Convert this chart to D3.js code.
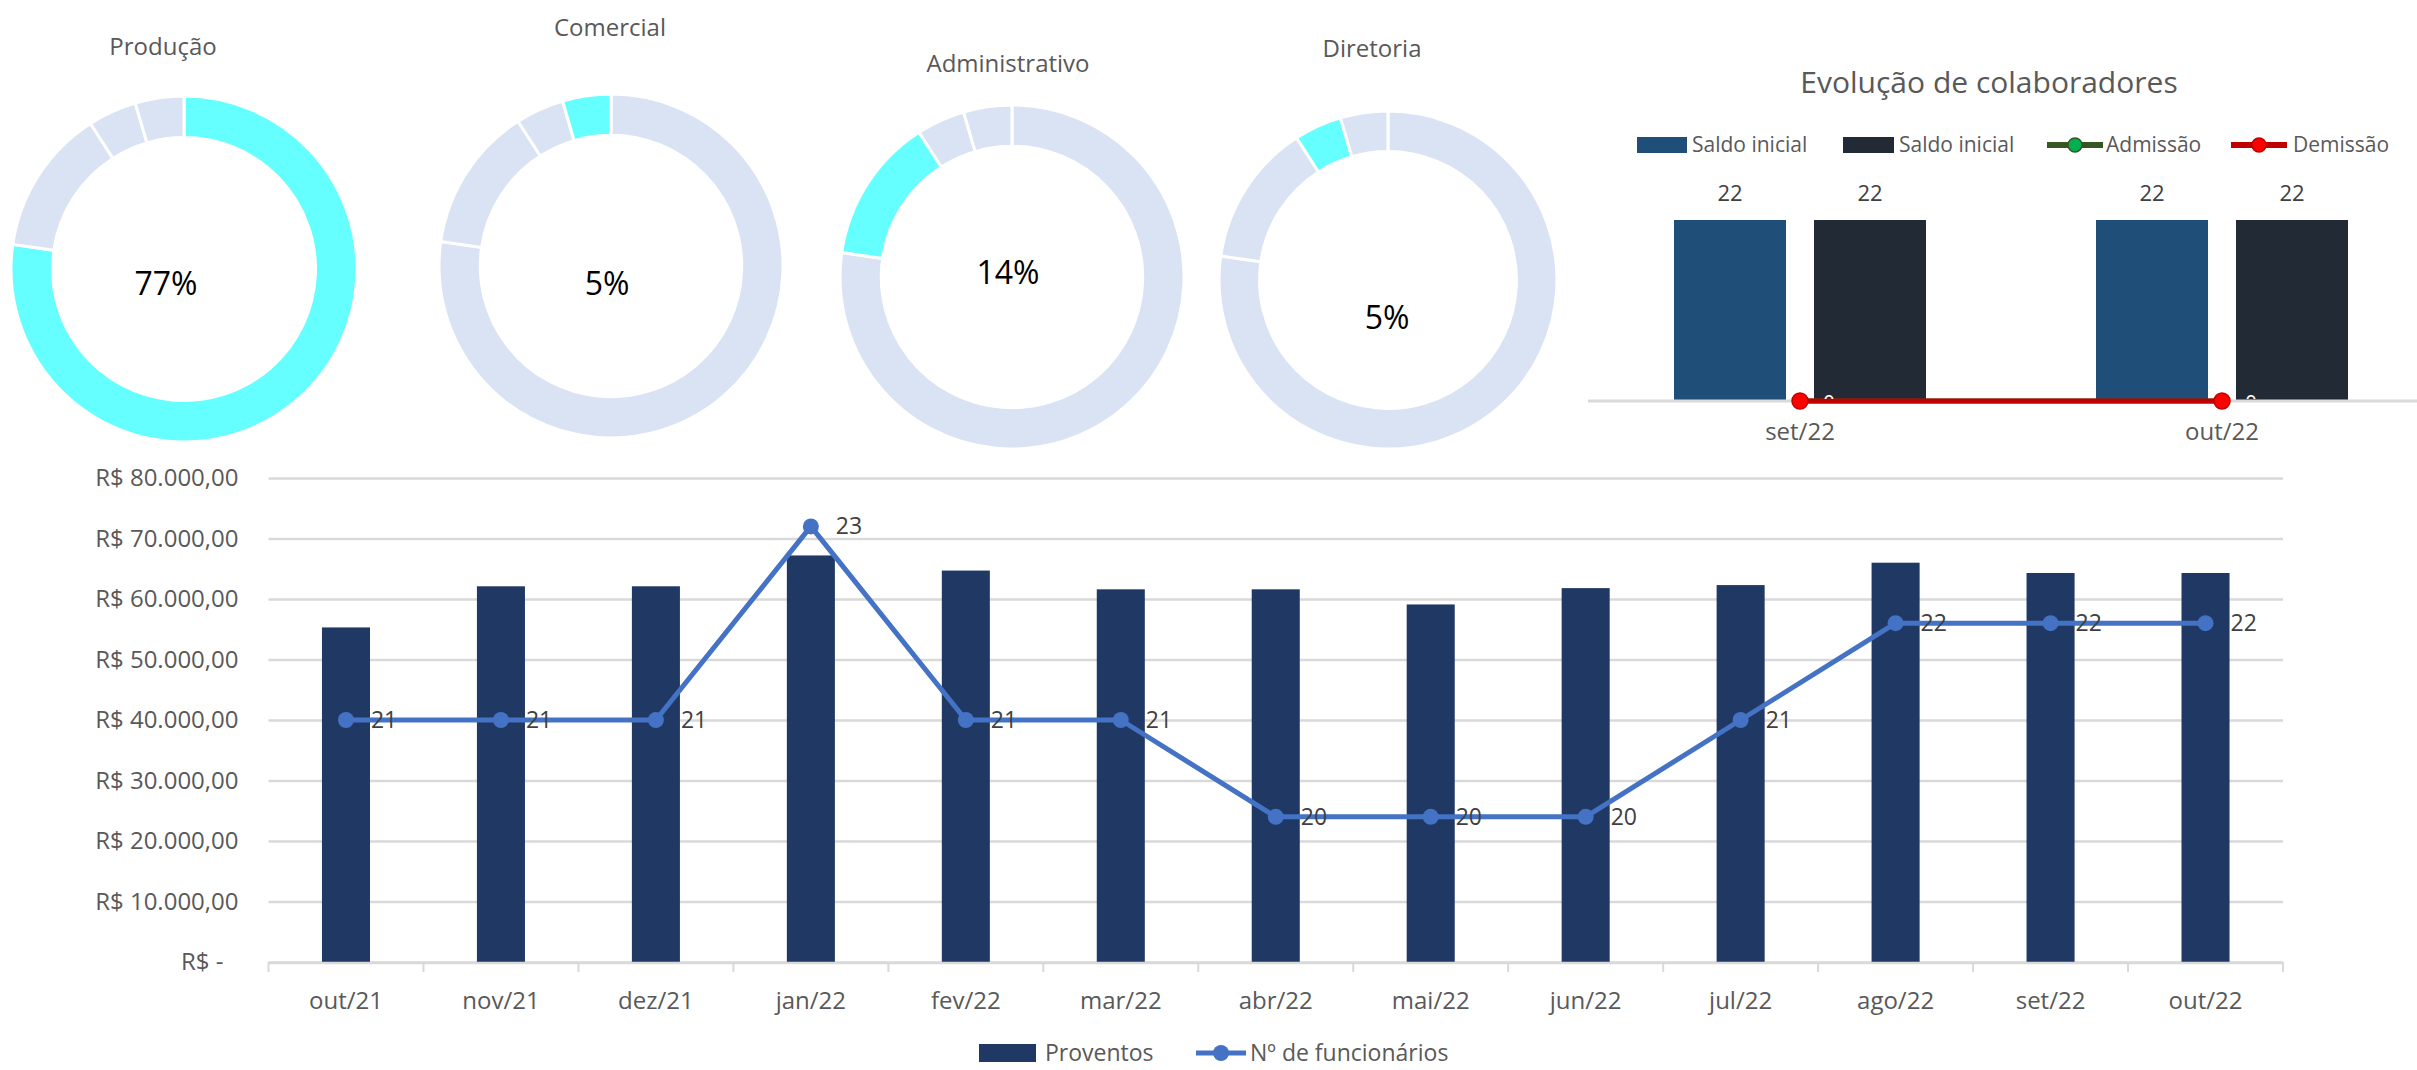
<!DOCTYPE html>
<html>
<head>
<meta charset="utf-8">
<script src="https://cdn.jsdelivr.net/npm/d3@7"></script>
<style>
  html, body { margin: 0; padding: 0; background: #fff; }
  svg { display: block; font-family: "Open Sans", "DejaVu Sans", sans-serif; }
</style>
</head>
<body>
<svg id="chart" width="2417" height="1070"></svg>
<script>
// ---------- DATA ----------
const months = ["out/21","nov/21","dez/21","jan/22","fev/22","mar/22","abr/22","mai/22","jun/22","jul/22","ago/22","set/22","out/22"];
const proventos = [55300, 62100, 62100, 67200, 64700, 61600, 61600, 59100, 61800, 62300, 66000, 64300, 64300];
const funcionarios = [21, 21, 21, 23, 21, 21, 20, 20, 20, 21, 22, 22, 22];
const yTicks = [0, 10000, 20000, 30000, 40000, 50000, 60000, 70000, 80000];

const departments = ["Produção", "Administrativo", "Diretoria", "Comercial"];
const deptCounts = [17, 3, 1, 1];
const deptLabels = ["77%", "14%", "5%", "5%"];

const evoMonths = ["set/22", "out/22"];
const evoSeries = ["Saldo inicial", "Saldo inicial"];
const saldoInicial = [22, 22];
const saldoFinal = [22, 22];
const admissao = [0, 0];
const demissao = [0, 0];

// ---------- SETUP ----------
const svg = d3.select("#chart");
const axisColor = "#d9d9d9";
const textColor = "#595959";
const labelColor = "#404040";

// ---------- DONUTS ----------
const donutLayout = [
  { dept: "Produção",       cx: 184,  cy: 269, r: 173, tx: 163,  ty: 55, lx: 166,  ly: 284 },
  { dept: "Comercial",      cx: 611,  cy: 266, r: 172, tx: 610,  ty: 36, lx: 607,  ly: 284 },
  { dept: "Administrativo", cx: 1012, cy: 277, r: 172, tx: 1008, ty: 72, lx: 1008, ly: 273 },
  { dept: "Diretoria",      cx: 1388, cy: 280, r: 169, tx: 1372, ty: 57, lx: 1387, ly: 318 }
];
const pie = d3.pie().sort(null).value(d => d);
const arcsData = pie(deptCounts);

donutLayout.forEach(L => {
  const idx = departments.indexOf(L.dept);
  const g = svg.append("g").attr("transform", `translate(${L.cx},${L.cy})`);
  const arc = d3.arc().innerRadius(L.r * 0.76).outerRadius(L.r);
  g.selectAll("path").data(arcsData).join("path")
    .attr("d", arc)
    .attr("fill", (d, i) => i === idx ? "#66ffff" : "#dae3f3")
    .attr("stroke", "#fff").attr("stroke-width", 3);
  svg.append("text").attr("x", L.tx).attr("y", L.ty)
    .attr("text-anchor", "middle").attr("font-size", 24).attr("fill", textColor)
    .text(L.dept);
  svg.append("text").attr("x", L.lx).attr("y", L.ly).attr("dy", "0.35em")
    .attr("text-anchor", "middle").attr("font-size", 32).attr("fill", "#000")
    .text(deptLabels[idx]);
});

// ---------- MAIN COMBO CHART ----------
const mLeft = 268.5, mRight = 2283, mTop = 478, mBottom = 962;
const x = d3.scaleBand().domain(months).range([mLeft, mRight]).paddingInner(0.69).paddingOuter(0.345);
const y = d3.scaleLinear().domain([0, 80000]).range([mBottom, mTop]);
const y2 = d3.scaleLinear().domain([18.5, 23.5]).range([mBottom, mTop]);

// gridlines
const grid = svg.append("g").attr("transform", `translate(${mLeft},0)`)
  .call(d3.axisLeft(y).tickValues(yTicks).tickSize(-(mRight - mLeft)).tickFormat(""));
grid.select(".domain").remove();
grid.selectAll("line").attr("stroke", axisColor).attr("stroke-width", 2.5);

// y labels
const fmt = v => v === 0 ? "R$ -" : "R$ " + d3.format(",.2f")(v).replace(/,/g, "#").replace(/\./g, ",").replace(/#/g, ".");
const yAxis = svg.append("g").attr("transform", `translate(${mLeft - 30},0)`)
  .call(d3.axisLeft(y).tickValues(yTicks).tickSize(0).tickPadding(0).tickFormat(fmt));
yAxis.select(".domain").remove();
yAxis.selectAll("text").attr("font-size", 24).attr("fill", textColor)
  .attr("font-family", "Open Sans")
  .attr("dx", d => d === 0 ? -15 : 0);

// bars
svg.append("g").selectAll("rect").data(proventos).join("rect")
  .attr("x", (d, i) => x(months[i]))
  .attr("width", x.bandwidth())
  .attr("y", d => y(d))
  .attr("height", d => y(0) - y(d))
  .attr("fill", "#203864");

// x axis baseline + boundary ticks
const step = x.step();
const bounds = months.map(m => x(m) - (step - x.bandwidth()) / 2).concat([mRight]);
svg.append("line").attr("x1", mLeft).attr("x2", mRight).attr("y1", mBottom + 1).attr("y2", mBottom + 1)
  .attr("stroke", axisColor).attr("stroke-width", 2.5);
svg.append("g").selectAll("line").data(bounds).join("line")
  .attr("x1", d => d).attr("x2", d => d).attr("y1", mBottom).attr("y2", mBottom + 10)
  .attr("stroke", axisColor).attr("stroke-width", 2);
const xAxis = svg.append("g").attr("transform", `translate(0,${mBottom})`)
  .call(d3.axisBottom(x).tickSize(0).tickPadding(30));
xAxis.select(".domain").remove();
xAxis.selectAll("text").attr("font-size", 24).attr("fill", textColor).attr("font-family", "Open Sans");

// line
const cx = (d, i) => x(months[i]) + x.bandwidth() / 2;
const line = d3.line().x(cx).y(d => y2(d));
svg.append("path").datum(funcionarios).attr("d", line)
  .attr("fill", "none").attr("stroke", "#4472c4").attr("stroke-width", 5).attr("stroke-linejoin", "round");
svg.append("g").selectAll("circle").data(funcionarios).join("circle")
  .attr("cx", cx).attr("cy", d => y2(d)).attr("r", 8).attr("fill", "#4472c4");
svg.append("g").selectAll("text").data(funcionarios).join("text")
  .attr("x", (d, i) => cx(d, i) + 25).attr("y", d => y2(d)).attr("dy", "0.35em")
  .attr("font-size", 23).attr("fill", labelColor).text(d => d);

// legend
const legY = 1053;
svg.append("rect").attr("x", 979).attr("y", legY - 9).attr("width", 57).attr("height", 18).attr("fill", "#203864");
svg.append("text").attr("x", 1045).attr("y", legY).attr("dy", "0.35em").attr("font-size", 23).attr("fill", textColor).text("Proventos");
svg.append("line").attr("x1", 1196).attr("x2", 1246).attr("y1", legY).attr("y2", legY).attr("stroke", "#4472c4").attr("stroke-width", 5);
svg.append("circle").attr("cx", 1221).attr("cy", legY).attr("r", 8).attr("fill", "#4472c4");
svg.append("text").attr("x", 1250).attr("y", legY).attr("dy", "0.35em").attr("font-size", 23).attr("fill", textColor).text("Nº de funcionários");

// ---------- EVOLUÇÃO DE COLABORADORES ----------
const eLeft = 1589, eRight = 2433, eBottom = 401;
const ex0 = d3.scaleBand().domain(evoMonths).range([eLeft, eRight]);
const ex1 = d3.scaleBand().domain([0, 1]).range([(ex0.bandwidth() - 252) / 2, (ex0.bandwidth() + 252) / 2]).paddingInner(0.2);
const ey = d3.scaleLinear().domain([0, 25]).range([eBottom, eBottom - 181 * 25 / 22]);
const barColors = ["#1f4e79", "#222a35"];

svg.append("text").attr("x", 1989).attr("y", 82).attr("dy", "0.35em")
  .attr("text-anchor", "middle").attr("font-size", 30).attr("fill", textColor)
  .text("Evolução de colaboradores");

const evoBars = [saldoInicial, saldoFinal];
evoBars.forEach((series, s) => {
  svg.append("g").selectAll("rect").data(series).join("rect")
    .attr("x", (d, i) => ex0(evoMonths[i]) + ex1(s))
    .attr("width", ex1.bandwidth())
    .attr("y", d => ey(d)).attr("height", d => ey(0) - ey(d))
    .attr("fill", barColors[s]);
  svg.append("g").selectAll("text").data(series).join("text")
    .attr("x", (d, i) => ex0(evoMonths[i]) + ex1(s) + ex1.bandwidth() / 2)
    .attr("y", d => ey(d) - 27).attr("dy", "0.35em")
    .attr("text-anchor", "middle").attr("font-size", 22).attr("fill", labelColor).text(d => d);
});

// axis line
svg.append("line").attr("x1", 1588).attr("x2", 2417).attr("y1", eBottom).attr("y2", eBottom)
  .attr("stroke", axisColor).attr("stroke-width", 3);
const exAxis = svg.append("g").attr("transform", `translate(0,${eBottom})`)
  .call(d3.axisBottom(ex0).tickSize(0).tickPadding(22));
exAxis.select(".domain").remove();
exAxis.selectAll("text").attr("font-size", 24).attr("fill", textColor).attr("font-family", "Open Sans");

// lines (Admissão under Demissão)
const ecx = (d, i) => ex0(evoMonths[i]) + ex0.bandwidth() / 2;
const eline = d3.line().x(ecx).y(d => ey(d));
svg.append("path").datum(admissao).attr("d", eline).attr("fill", "none").attr("stroke", "#375623").attr("stroke-width", 5);
svg.append("g").selectAll("circle").data(admissao).join("circle")
  .attr("cx", ecx).attr("cy", d => ey(d)).attr("r", 7).attr("fill", "#00b050");
svg.append("path").datum(demissao).attr("d", eline).attr("fill", "none").attr("stroke", "#c00000").attr("stroke-width", 5);
svg.append("g").selectAll("circle").data(demissao).join("circle")
  .attr("cx", ecx).attr("cy", d => ey(d)).attr("r", 8).attr("fill", "#ff0000").attr("stroke", "#c00000").attr("stroke-width", 1.5);

// clipped "0" labels
svg.append("clipPath").attr("id", "evoClip").append("rect")
  .attr("x", eLeft).attr("y", 0).attr("width", 2417 - eLeft).attr("height", eBottom - 2);
svg.append("g").attr("clip-path", "url(#evoClip)").selectAll("text").data(demissao).join("text")
  .attr("x", (d, i) => ecx(d, i) + 29).attr("y", d => ey(d) + 3).attr("dy", "0.35em")
  .attr("text-anchor", "middle").attr("font-size", 21).attr("fill", "#ffffff").text(d => d);

// legend
const eLegY = 145;
const eLeg = [
  { type: "rect", x: 1637, w: 50, color: barColors[0], label: evoSeries[0], tx: 1692 },
  { type: "rect", x: 1843, w: 51, color: barColors[1], label: evoSeries[1], tx: 1899 },
  { type: "line", x: 2047, w: 56, color: "#375623", mk: "#00b050", label: "Admissão", tx: 2106 },
  { type: "line", x: 2231, w: 56, color: "#c00000", mk: "#ff0000", label: "Demissão", tx: 2293 }
];
eLeg.forEach(L => {
  if (L.type === "rect") {
    svg.append("rect").attr("x", L.x).attr("y", eLegY - 8).attr("width", L.w).attr("height", 16).attr("fill", L.color);
  } else {
    svg.append("line").attr("x1", L.x).attr("x2", L.x + L.w).attr("y1", eLegY).attr("y2", eLegY)
      .attr("stroke", L.color).attr("stroke-width", 6);
    svg.append("circle").attr("cx", L.x + L.w / 2).attr("cy", eLegY).attr("r", 7)
      .attr("fill", L.mk).attr("stroke", L.color).attr("stroke-width", 1.5);
  }
  svg.append("text").attr("x", L.tx).attr("y", eLegY).attr("dy", "0.35em")
    .attr("font-size", 21).attr("fill", textColor).text(L.label);
});
</script>
</body>
</html>
